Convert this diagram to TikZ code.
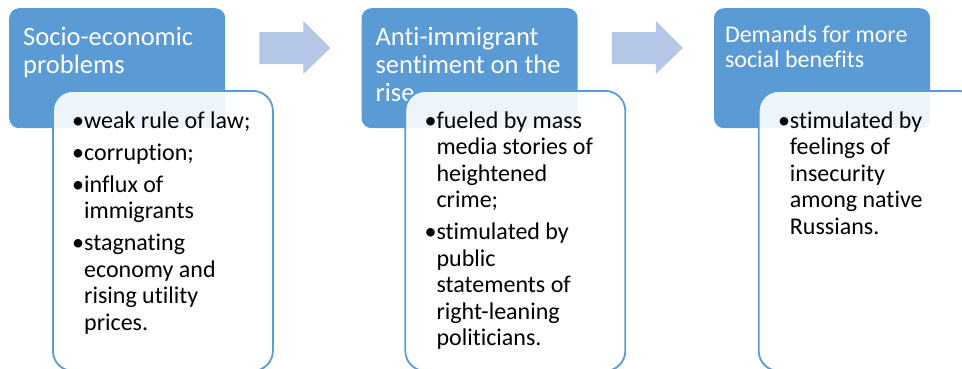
\documentclass[tikz,border=0pt]{standalone}
\usepackage{fontspec}
\setmainfont{Carlito}[Ligatures={NoCommon}]
\usetikzlibrary{positioning}
\definecolor{headblue}{HTML}{5B9BD5}
\definecolor{arrowblue}{HTML}{B4C7E7}
\tikzstyle{head box}=[rectangle,rounded corners=10pt,fill=headblue,minimum width=216pt,minimum height=120pt,inner sep=0pt,anchor=north west]
\tikzstyle{detail box}=[rectangle,rounded corners=20pt,draw=headblue,line width=1.8pt,fill=white,fill opacity=0.9,minimum width=220pt,minimum height=280pt,inner sep=0pt,anchor=north west]
\tikzstyle{head text}=[anchor=base west,inner sep=0pt,text=white,font=\fontsize{26.5}{28.3}\selectfont]
\tikzstyle{detail text}=[anchor=base west,inner sep=0pt,text=black,font=\fontsize{24}{26.5}\selectfont]
\tikzstyle{step arrow}=[fill=arrowblue,draw=none]
\newcommand{\lines}[1]{\begin{tabular}[t]{@{}l@{}}#1\end{tabular}}
\newcommand{\headtext}[4][]{
  \node [head text, #1] (#3) at ([shift={(14,37)}]#2.north west) {\lines{#4}}
}
\newcommand{\detailtext}[3]{
  \node [detail text] (#2) at ([shift={(20,38)}]#1.north west) {\lines{#3}}
}
\newcommand{\cont}{\hphantom{•}}

\begin{document}
\begin{tikzpicture}[x=1pt,y=-1pt]
    \clip (0,0) rectangle (962,368);
    \node[head box] (h1) at (9,8) {};
    \node[head box, right=136pt of h1] (h2) {};
    \node[head box, right=136pt of h2] (h3) {};

    \headtext{h1}{t1}{Socio-economic\\problems};
    \headtext{h2}{t2}{Anti-immigrant\\sentiment on the\\rise};
    \headtext[shift={(-3,-3)},font=\fontsize{24}{25}\selectfont]{h3}{t3}{Demands for more\\social benefits};

    \node[detail box] (d1) at ([shift={(43,82)}]h1.north west) {};
    \node[detail box] (d2) at ([shift={(43,82)}]h2.north west) {};
    \node[detail box] (d3) at ([shift={(44,82)}]h3.north west) {};

    \detailtext{d1}{b1}{•weak rule of law;\\[5.5pt]
        •corruption;\\[5.5pt]
        •influx of\\\cont immigrants\\[5.5pt]
        •stagnating\\\cont economy and\\\cont rising utility\\\cont prices.};
    \detailtext{d2}{b2}{•fueled by mass\\\cont media stories of\\\cont heightened\\\cont crime;\\[5.5pt]
        •stimulated by\\\cont public\\\cont statements of\\\cont right-leaning\\\cont politicians.};
    \detailtext{d3}{b3}{•stimulated by\\\cont feelings of\\\cont insecurity\\\cont among native\\\cont Russians.};

    \foreach \h in {h1,h2}
        \path[step arrow] ([shift={(34,24)}]\h.north east) -- ++(44,0) -- ++(0,-11) -- ++(27,27)
            -- ++(-27,26) -- ++(0,-10) -- ++(-44,0) -- cycle;
\end{tikzpicture}
\end{document}
